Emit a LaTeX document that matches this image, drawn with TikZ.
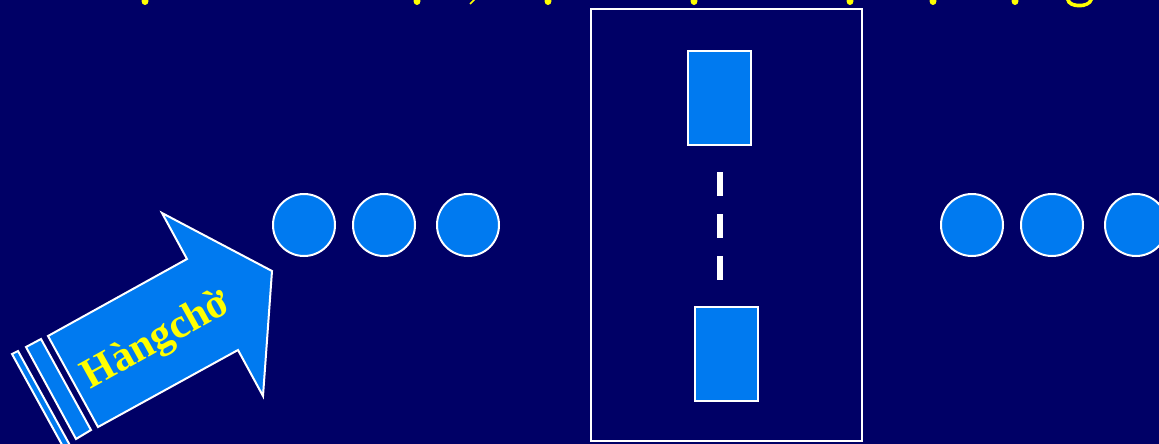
\documentclass[tikz,border=0pt]{standalone}
\usepackage{fontspec}
\setmainfont{Liberation Serif}
\usepackage{tikz}

\definecolor{navy}{RGB}{0,0,102}
\definecolor{qblue}{RGB}{0,122,240}
\definecolor{ttl}{RGB}{255,255,0}

\begin{document}
\begin{tikzpicture}[x=1pt, y=-1pt, line width=2pt,
    cust/.style={circle, draw=white, fill=qblue, minimum size=62pt, inner sep=0pt},
    srvbox/.style={rectangle, draw=white, fill=qblue, minimum width=63pt, minimum height=94pt, inner sep=0pt},
    stripe/.style={draw=white, fill=qblue}]
    % Background
    \fill[navy] (0,0) rectangle (1159,444);
    \useasboundingbox (0,0) rectangle (1159,444);
    % Cut-off title (only the marks under the line show)
    \foreach \x in {145,417,548,694,850,933,1015}
        \fill[ttl] (\x,1) ellipse (3.5pt and 4pt);
    \draw[ttl, line width=1.6pt] (470,4) -- (475,-1);
    \fill[ttl] (1066,0) .. controls (1068,10) and (1090,10) .. (1093,0) -- (1089,0)
        .. controls (1087,5) and (1072,5) .. (1070,0) -- cycle;
    % Service station
    \node[rectangle, draw=white, minimum width=271pt, minimum height=431pt] (station) at (726,225) {};
    \node[srvbox] (srv1) at (719.5,98) {};
    \node[srvbox] (srv2) at (726,354) {};
    \draw[white, line width=6pt, dash pattern=on 24pt off 18pt, shorten <=26pt, shorten >=26pt]
        (srv1.south) -- (srv1.south |- srv2.north);
    % Customers waiting and leaving
    \foreach \x/\n in {304/q1, 384/q2, 468/q3}
        \node[cust] (\n) at (\x,225) {};
    \foreach \x/\n in {972/d1, 1052/d2, 1136/d3}
        \node[cust] (\n) at (\x,225) {};
    % Queue arrow
    \draw[stripe] (48,336) -- (187,259) -- (162,213) -- (272,271) -- (263,396)
        -- (238,350) -- (98,427) -- cycle;
    \draw[stripe] (26,347) -- (41,339) -- (91,430) -- (76,439) -- cycle;
    \draw[stripe] (12,354) -- (18,351) -- (72,449) -- (66,452) -- cycle;
    \node[rotate=29, text=ttl, font=\fontsize{42}{48}\selectfont\bfseries] (lbl) at (157,341) {Hàngchờ};
\end{tikzpicture}
\end{document}
